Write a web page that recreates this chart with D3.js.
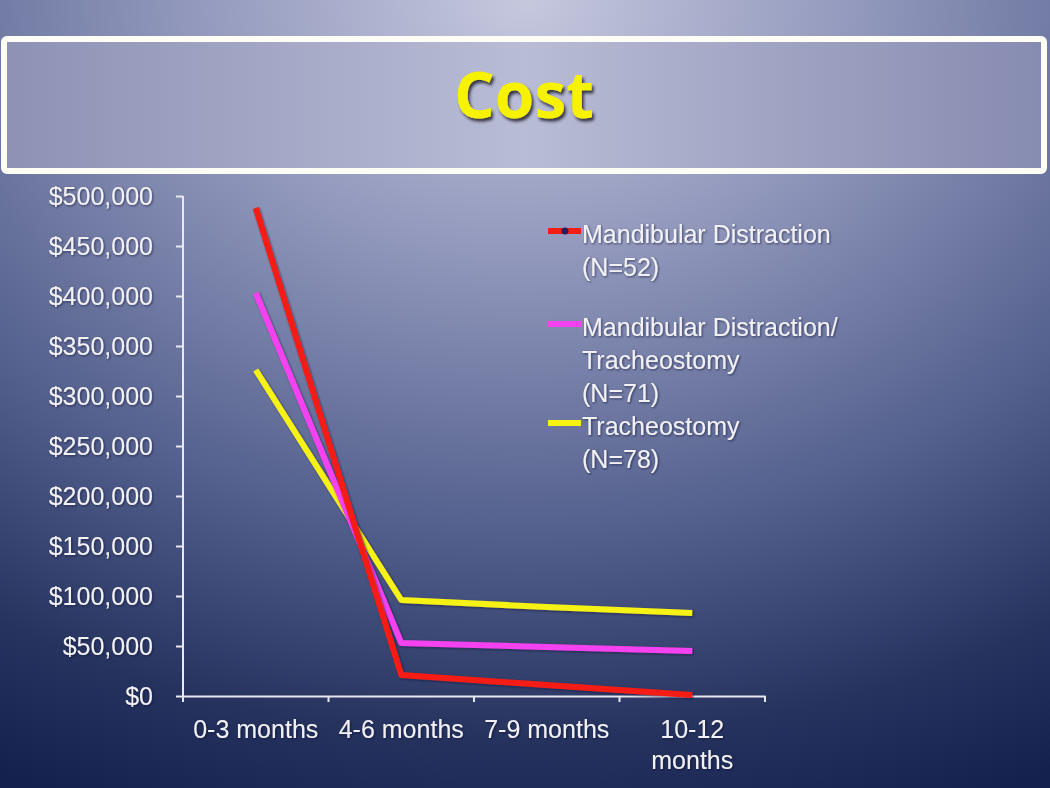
<!DOCTYPE html>
<html>
<head>
<meta charset="utf-8">
<script src="https://cdn.jsdelivr.net/npm/d3@7"></script>
<style>
  body { margin: 0; background: #1c2853; }
  svg { display: block; }
</style>
</head>
<body>
<div class="chart"></div>
<script>
// chart data
const periods = ["0-3 months", "4-6 months", "7-9 months", "10-12 months"];
const seriesNames = ["Mandibular Distraction (N=52)", "Mandibular Distraction/ Tracheostomy (N=71)", "Tracheostomy (N=78)"];
const mdCost = [488000, 21000, 11000, 1000];
const mdtCost = [403000, 53000, 49000, 45000];
const trachCost = [326000, 96000, 89000, 83000];
const yTicks = [0, 50000, 100000, 150000, 200000, 250000, 300000, 350000, 400000, 450000, 500000];

const width = 1050, height = 788;
const labelFont = "Liberation Sans, Arial, sans-serif";

var svg = d3.select(".chart")
  .append("svg")
    .attr("width", width)
    .attr("height", height);

var defs = svg.append("defs");

// slide background
var bg = defs.append("radialGradient")
  .attr("id", "bg")
  .attr("cx", "50%").attr("cy", "0%").attr("r", "110%")
  .attr("fx", "50%").attr("fy", "0%");
bg.append("stop").attr("offset", "0").attr("stop-color", "#c6c8de");
bg.append("stop").attr("offset", "0.3").attr("stop-color", "#9097bb");
bg.append("stop").attr("offset", "0.6").attr("stop-color", "#56628f");
bg.append("stop").attr("offset", "0.85").attr("stop-color", "#26335f");
bg.append("stop").attr("offset", "1").attr("stop-color", "#14204d");

var tb = defs.append("linearGradient").attr("id", "titlebox");
tb.append("stop").attr("offset", "0").attr("stop-color", "#8d92b5");
tb.append("stop").attr("offset", "0.5").attr("stop-color", "#b9bcd5");
tb.append("stop").attr("offset", "1").attr("stop-color", "#868bb0");

var shadow = defs.append("filter").attr("id", "shadow")
  .attr("x", "-10%").attr("y", "-10%").attr("width", "130%").attr("height", "130%");
shadow.append("feDropShadow")
  .attr("dx", 2).attr("dy", 3).attr("stdDeviation", 1.5)
  .attr("flood-color", "#1a1a2a").attr("flood-opacity", 0.85);

var soft = defs.append("filter").attr("id", "soft");
soft.append("feDropShadow")
  .attr("dx", 1).attr("dy", 1).attr("stdDeviation", 0.8)
  .attr("flood-color", "#101830").attr("flood-opacity", 0.6);

svg.append("rect")
  .attr("width", width).attr("height", height)
  .attr("fill", "url(#bg)");

// title box
svg.append("rect")
  .attr("x", 4).attr("y", 39)
  .attr("width", 1040).attr("height", 132)
  .attr("rx", 3)
  .attr("fill", "url(#titlebox)")
  .attr("stroke", "#fdfdf6")
  .attr("stroke-width", 6);

svg.append("text")
  .attr("x", 524).attr("y", 118)
  .attr("text-anchor", "middle")
  .attr("font-family", "Open Sans, sans-serif")
  .attr("font-weight", "bold")
  .attr("font-size", 64)
  .attr("fill", "#f7f200")
  .attr("filter", "url(#shadow)")
  .text("Cost");

// scales
var x = d3.scaleBand()
  .domain(periods)
  .range([183, 765]);

var y = d3.scaleLinear()
  .domain([0, 500000])
  .range([696, 196]);

var fmt = d3.format("$,");

// y axis
var yAxis = svg.append("g")
  .attr("transform", "translate(183,0)")
  .call(d3.axisLeft(y).tickValues(yTicks).tickSize(7).tickFormat(fmt));

yAxis.selectAll("text")
  .attr("x", -30)
  .attr("font-family", labelFont)
  .attr("font-size", 25)
  .attr("fill", "#f2f2f6")
  .attr("filter", "url(#soft)");

// x axis
var xAxis = svg.append("g")
  .attr("transform", "translate(0,696)")
  .call(d3.axisBottom(x).tickSize(0).tickFormat(""));

xAxis.selectAll(".xtick")
  .data(d3.range(periods.length + 1))
  .enter()
  .append("line")
    .attr("class", "xtick")
    .attr("x1", function(i) { return 183 + i * x.step(); })
    .attr("x2", function(i) { return 183 + i * x.step(); })
    .attr("y1", 0).attr("y2", 6);

svg.selectAll(".domain, .tick line, .xtick")
  .attr("stroke", "#e8e8f0")
  .attr("stroke-width", 2);
yAxis.select(".domain").attr("d", "M0,196V696");

// x labels (wrapped)
var xLabels = svg.append("g")
  .attr("font-family", labelFont)
  .attr("font-size", 25)
  .attr("fill", "#f2f2f6")
  .attr("text-anchor", "middle")
  .attr("filter", "url(#soft)");

periods.forEach(function(p, i) {
  var cx = x(p) + x.bandwidth() / 2;
  var lines = i === 3 ? ["10-12", "months"] : [p];
  lines.forEach(function(t, j) {
    xLabels.append("text")
      .attr("x", cx)
      .attr("y", 738 + j * 31)
      .text(t);
  });
});

// lines
var series = [
  { name: seriesNames[0], values: mdCost, color: "#f51e12" },
  { name: seriesNames[1], values: mdtCost, color: "#f542f0" },
  { name: seriesNames[2], values: trachCost, color: "#f7f212" }
];

var line = d3.line()
  .x(function(d, i) { return x(periods[i]) + x.bandwidth() / 2; })
  .y(function(d) { return y(d); });

svg.selectAll(".series")
  .data(series.slice().reverse())
  .enter()
  .append("path")
    .attr("class", "series")
    .attr("d", function(d) { return line(d.values); })
    .attr("fill", "none")
    .attr("stroke", function(d) { return d.color; })
    .attr("stroke-width", 6)
    .attr("stroke-linejoin", "round")
    .attr("filter", "url(#soft)");

// legend
var legendRows = [
  { lines: ["Mandibular Distraction", "(N=52)"], y: 234, color: series[0].color, dot: true },
  { lines: ["Mandibular Distraction/", "Tracheostomy", "(N=71)"], y: 327, color: series[1].color },
  { lines: ["Tracheostomy", "(N=78)"], y: 426, color: series[2].color }
];

var legend = svg.append("g");
legendRows.forEach(function(r) {
  legend.append("line")
    .attr("x1", 548).attr("x2", 581)
    .attr("y1", r.y - 3).attr("y2", r.y - 3)
    .attr("stroke", r.color)
    .attr("stroke-width", 6);
  if (r.dot) {
    legend.append("circle")
      .attr("cx", 565).attr("cy", r.y - 3).attr("r", 3.5)
      .attr("fill", "#2a1b5c");
  }
  r.lines.forEach(function(t, j) {
    legend.append("text")
      .attr("x", 582)
      .attr("y", r.y + 9 + j * 33)
      .attr("font-family", labelFont)
      .attr("font-size", 25)
      .attr("fill", "#f2f2f6")
      .attr("filter", "url(#soft)")
      .text(t);
  });
});
</script>
</body>
</html>
